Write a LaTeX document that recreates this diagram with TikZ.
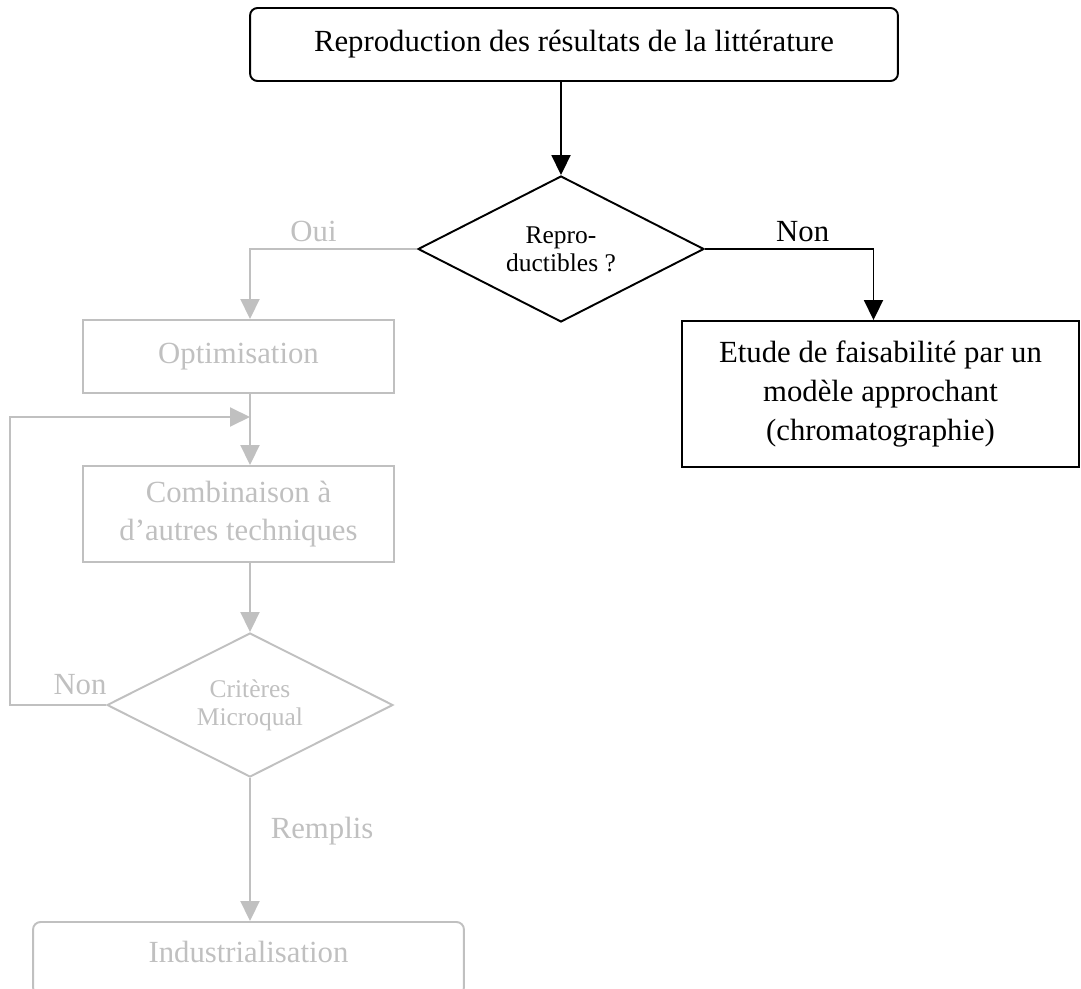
\documentclass[tikz,border=0pt]{standalone}
\usepackage{fontspec}
\setmainfont{Liberation Serif}
\usepackage{tikz}
\usetikzlibrary{arrows.meta, positioning, shapes.geometric, calc}
\definecolor{faded}{HTML}{C0C0C0}
\tikzset{
  bigtxt/.style={font=\fontsize{17.5}{22}\selectfont},
  smalltxt/.style={font=\fontsize{14.5}{16}\selectfont},
  box/.style={draw, line width=1.1pt, rectangle, align=center, bigtxt},
  test/.style={draw, line width=1.1pt, diamond, aspect=2, inner sep=0pt, align=center, smalltxt},
  flow/.style={line width=1.1pt, -{Triangle[length=0.4cm, width=0.38cm]}},
  dim/.style={draw=faded, text=faded}
}

\begin{document}
\begin{tikzpicture}[x=0.02cm, y=-0.02cm]
      \clip (0,0) rectangle (1081,989);
      % black part
      \node[box, rounded corners=0.15cm, minimum width=12.96cm, minimum height=1.46cm] (title) at (574,44.5) {Reproduction des r\'esultats de la litt\'erature};
      \node[test, minimum width=5.72cm, minimum height=2.92cm] (repro) at (561,249) {Repro-\\ductibles ?};
      \node[box, minimum width=7.94cm, minimum height=2.92cm] (etude) at (880.5,394) {Etude de faisabilit\'e par un\\mod\`ele approchant\\(chromatographie)};
      \draw[flow] (title.south -| repro.north) -- (repro.north);
      \draw[flow] (repro.east) -| ([xshift=-0.14cm]etude.north) node[pos=0.29, above, bigtxt] {Non};
      % greyed part
      \node[box, dim, minimum width=6.22cm, minimum height=1.46cm] (optim) at (238.5,356.5) {Optimisation};
      \node[box, dim, minimum width=6.22cm, minimum height=1.92cm] (combi) at (238.5,514) {Combinaison \`a\\d'autres techniques};
      \node[test, dim, minimum width=5.72cm, minimum height=2.88cm] (crit) at (250,705) {Crit\`eres\\Microqual};
      \node[box, dim, rounded corners=0.15cm, minimum width=8.62cm, minimum height=1.46cm, text depth=0.26cm] (indus) at (248.5,958.5) {Industrialisation};
      \coordinate (merge) at (250,417);
      \coordinate (side) at (10,417);
      \draw[flow, faded] (repro.west) -| (optim.north -| crit.north) node[pos=0.31, above, bigtxt] {Oui};
      \draw[flow, faded] (optim.south -| crit.north) -- (combi.north -| crit.north);
      \draw[flow, faded] (combi.south -| crit.north) -- (crit.north);
      \draw[flow, faded] (crit.west) -| (side) -- (merge);
      \node[bigtxt, text=faded] (nonlbl) at (80,685) {Non};
      \draw[flow, faded] (crit.south) -- (crit.south |- indus.north) node[pos=0.37, right=0.28cm, bigtxt] {Remplis};
    \end{tikzpicture}
\end{document}
